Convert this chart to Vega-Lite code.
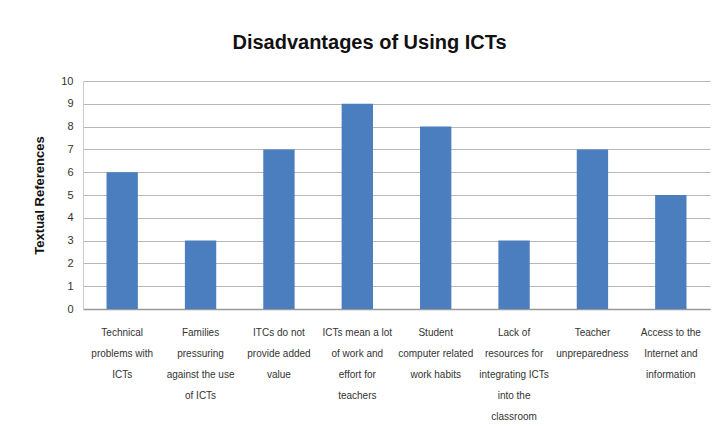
{
  "$schema": "https://vega.github.io/schema/vega-lite/v6.json",
  "autosize": {"type": "none"},
  "width": 627,
  "height": 228,
  "padding": {"left": 83, "top": 81, "right": 4, "bottom": 119},
  "background": "white",
  "title": {
    "text": "Disadvantages of Using ICTs",
    "font": "Liberation Sans",
    "fontSize": 20,
    "fontWeight": "bold",
    "color": "#111111",
    "anchor": "middle",
    "dx": -27,
    "offset": 22
  },
  "data": {
    "values": [
      {"category": "Technical|problems with|ICTs", "references": 6},
      {"category": "Families|pressuring|against the use|of ICTs", "references": 3},
      {"category": "ITCs do not|provide added|value", "references": 7},
      {"category": "ICTs mean a lot|of work and|effort for|teachers", "references": 9},
      {"category": "Student|computer related|work habits", "references": 8},
      {"category": "Lack of|resources for|integrating ICTs|into the|classroom", "references": 3},
      {"category": "Teacher|unpreparedness", "references": 7},
      {"category": "Access to the|Internet and|information", "references": 5}
    ]
  },
  "mark": {"type": "bar", "color": "#4a7ebf"},
  "encoding": {
    "x": {
      "field": "category",
      "type": "nominal",
      "sort": null,
      "scale": {"paddingInner": 0.6, "paddingOuter": 0.3},
      "axis": {
        "title": null,
        "labelAngle": 0,
        "labelExpr": "split(datum.label, '|')",
        "labelFont": "Liberation Sans",
        "labelFontSize": 10,
        "labelColor": "#333333",
        "labelLineHeight": 21,
        "labelPadding": 18,
        "labelLimit": 100,
        "ticks": false,
        "domainColor": "#999999",
        "domainWidth": 1.5
      }
    },
    "y": {
      "field": "references",
      "type": "quantitative",
      "scale": {"domain": [0, 10], "nice": false},
      "axis": {
        "title": "Textual References",
        "titleFont": "Liberation Sans",
        "titleFontSize": 13,
        "titleFontWeight": "bold",
        "titleColor": "#111111",
        "titlePadding": 14,
        "values": [0,1,2,3,4,5,6,7,8,9,10],
        "labelOverlap": false,
        "labelFont": "Liberation Sans",
        "labelFontSize": 11,
        "labelColor": "#333333",
        "labelPadding": 10,
        "ticks": false,
        "domainColor": "#cccccc",
        "gridColor": "#b8b8b8",
        "gridWidth": 1
      }
    }
  },
  "config": {"view": {"stroke": null}}
}
